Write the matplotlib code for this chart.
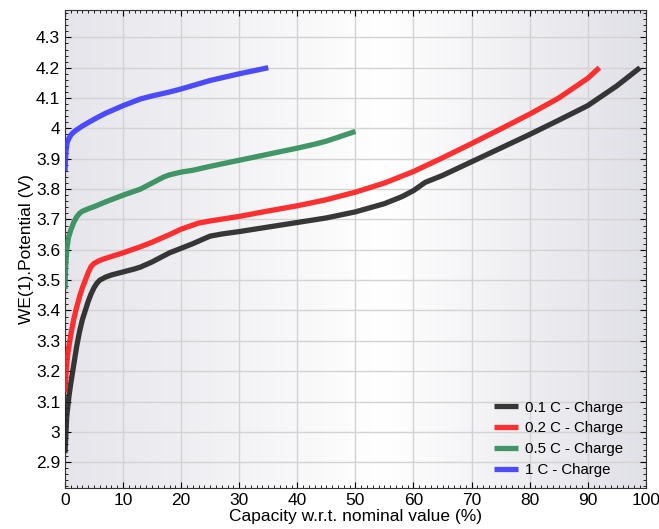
import numpy as np
import matplotlib
matplotlib.use("Agg")
import matplotlib.pyplot as plt
from matplotlib.ticker import MultipleLocator, FuncFormatter

plt.rcParams['font.family'] = ['Liberation Sans', 'DejaVu Sans']

# 0.1 C charge
x_01 = [0, 0.3, 0.7, 1, 1.5, 2, 2.5, 3, 3.5, 4, 4.5, 5, 5.5, 6, 7, 8, 10, 12, 13, 15, 17, 18, 20, 22, 24, 25, 27, 30, 35, 40, 45, 50, 55, 58, 60, 62, 65, 70, 75, 80, 85, 90, 95, 99]
y_01 = [2.93, 3.05, 3.12, 3.16, 3.22, 3.28, 3.33, 3.37, 3.40, 3.43, 3.455, 3.475, 3.49, 3.50, 3.51, 3.517, 3.527, 3.537, 3.543, 3.56, 3.58, 3.59, 3.605, 3.62, 3.637, 3.645, 3.652, 3.66, 3.675, 3.69, 3.705, 3.725, 3.752, 3.775, 3.795, 3.822, 3.845, 3.89, 3.935, 3.98, 4.027, 4.075, 4.14, 4.20]

# 0.2 C charge
x_02 = [0, 0.2, 0.5, 1, 1.5, 2, 2.5, 3, 3.5, 4, 4.5, 5, 6, 7, 10, 13, 15, 18, 20, 23, 25, 30, 35, 40, 45, 50, 55, 60, 65, 70, 75, 80, 85, 90, 92]
y_02 = [3.13, 3.20, 3.26, 3.32, 3.37, 3.41, 3.445, 3.475, 3.50, 3.525, 3.545, 3.555, 3.565, 3.572, 3.59, 3.61, 3.625, 3.65, 3.668, 3.688, 3.695, 3.71, 3.728, 3.745, 3.765, 3.79, 3.82, 3.858, 3.903, 3.95, 3.998, 4.047, 4.10, 4.165, 4.20]

# 0.5 C charge
x_05 = [0, 0.1, 0.3, 0.6, 1, 1.5, 2, 2.5, 3, 4, 5, 7, 10, 13, 15, 17, 18, 20, 22, 25, 30, 35, 40, 43, 45, 50]
y_05 = [3.47, 3.54, 3.60, 3.64, 3.665, 3.69, 3.708, 3.72, 3.727, 3.735, 3.742, 3.758, 3.78, 3.80, 3.82, 3.84, 3.847, 3.856, 3.862, 3.875, 3.895, 3.915, 3.935, 3.948, 3.958, 3.99]

# 1 C charge
x_1 = [0, 0.1, 0.2, 0.4, 0.7, 1, 1.5, 2, 3, 5, 7, 10, 13, 15, 18, 20, 25, 30, 35]
y_1 = [3.86, 3.90, 3.93, 3.955, 3.968, 3.978, 3.988, 3.995, 4.008, 4.03, 4.05, 4.075, 4.097, 4.107, 4.12, 4.13, 4.158, 4.18, 4.20]

labels = ["0.1 C - Charge", "0.2 C - Charge", "0.5 C - Charge", "1 C - Charge"]
colors = ["#222222", "#ff1a1a", "#2e8b57", "#3a3aff"]

fig = plt.figure(figsize=(6.59, 5.29), dpi=100)
ax = fig.add_axes([0.0986, 0.0775, 0.8814, 0.9035])

xmin, xmax, ymin, ymax = 0, 100, 2.815, 4.39

# horizontal gradient background: grey at edges, white in the middle
t = np.linspace(0, 1, 300)
left = np.array([229, 229, 235]) / 255
right = np.array([224, 224, 231]) / 255
white = np.array([255, 255, 255]) / 255
grad = np.zeros((1, 300, 3))
for i, v in enumerate(t):
    if v < 0.55:
        f = v / 0.55
        grad[0, i] = left * (1 - f) + white * f
    else:
        f = (v - 0.55) / 0.45
        grad[0, i] = white * (1 - f) + right * f
ax.imshow(grad, extent=[xmin, xmax, ymin, ymax], aspect='auto', zorder=0)

for xs, ys, c, lab in zip([x_01, x_02, x_05, x_1], [y_01, y_02, y_05, y_1], colors, labels):
    ax.plot(xs, ys, color=c, lw=3.8, label=lab, zorder=3, solid_capstyle='butt',
            solid_joinstyle='round', alpha=0.9)

ax.set_xlim(xmin, xmax)
ax.set_ylim(ymin, ymax)
ax.xaxis.set_major_locator(MultipleLocator(10))
ax.xaxis.set_minor_locator(MultipleLocator(1))
ax.yaxis.set_major_locator(MultipleLocator(0.1))
ax.yaxis.set_minor_locator(MultipleLocator(0.02))
ax.yaxis.set_major_formatter(FuncFormatter(lambda v, p: "%g" % round(v, 2)))
ax.tick_params(which='both', direction='in', top=True, right=True, labelsize=12.5)
ax.tick_params(which='major', length=4)
ax.tick_params(which='minor', length=2)
ax.grid(True, which='major', color='#d3d3d3', lw=1, zorder=1)
ax.set_axisbelow(True)
for s in ax.spines.values():
    s.set_color('#333333')

ax.set_xlabel("Capacity w.r.t. nominal value (%)", fontsize=12.5, labelpad=1)
ax.set_ylabel("WE(1).Potential (V)", fontsize=12.5, labelpad=1)

ax.legend(loc='lower right', frameon=False, fontsize=10.8, handlelength=1.6,
          handletextpad=0.5, labelspacing=0.45, bbox_to_anchor=(0.985, -0.005))

fig.savefig("out.png", dpi=100)
